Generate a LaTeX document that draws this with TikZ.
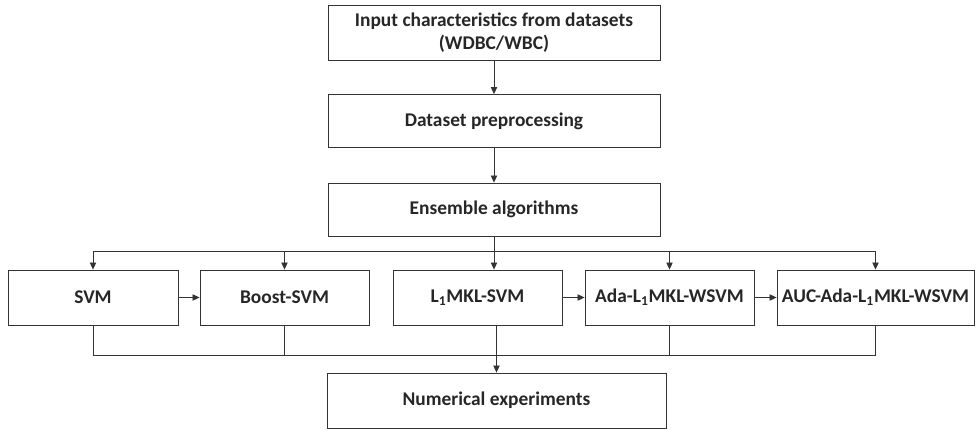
\documentclass[tikz,border=0pt]{standalone}
\usepackage{fontspec}
\setmainfont{Carlito}
\usetikzlibrary{positioning, arrows.meta}

\begin{document}
\begin{tikzpicture}[
    x=0.025cm, y=-0.025cm,
    every node/.style={rectangle, draw=black!80, line width=0.6pt, minimum height=1.375cm, align=center, font=\fontsize{13.8}{16.5}\selectfont\bfseries, text=black!85},
    wide/.style={minimum width=8.3cm},
    algo/.style={minimum width=4.225cm},
    arrow/.style={-{Triangle[length=5pt, width=4.5pt]}, line width=0.6pt, draw=black!80},
    link/.style={line width=0.6pt, draw=black!80}
]
\useasboundingbox (0,0) rectangle (976,429);

% Nodes
\node (input) [wide] at (494,32.5) {Input characteristics from datasets\\(WDBC/WBC)};
\node (prep) [wide, minimum height=1.325cm] at (494,121) {Dataset preprocessing};
\node (ens) [wide, minimum height=1.325cm] at (494,209.5) {Ensemble algorithms};

\node (svm) [algo, minimum width=4.25cm] at (93,297.5) {SVM};
\node (boost) [algo] at (284.5,297.5) {Boost-SVM};
\node (lmkl) [algo] at (477.5,297.5) {L\textsubscript{1}MKL-SVM};
\node (ada) [algo] at (669.5,297.5) {Ada-L\textsubscript{1}MKL-WSVM};
\node (auc) [minimum width=4.925cm] at (875.5,297.5) {AUC-Ada-L\textsubscript{1}MKL-WSVM};

\node (num) [minimum width=8.475cm] at (496.5,400.5) {Numerical experiments};

\coordinate (split) at (494,251);
\coordinate (join) at (496,355);

% Arrows
\draw [arrow] (input) -- (prep);
\draw [arrow] (prep) -- (ens);
\draw [arrow] (ens.south) -- (ens.south |- lmkl.north);
\draw [link] (svm.north |- split) -- (auc.north |- split);
\foreach \n in {svm, boost, ada, auc}
    \draw [arrow] (\n.north |- split) -- (\n.north);

\draw [arrow] (svm) -- (boost);
\draw [arrow] (lmkl) -- (ada);
\draw [arrow] (ada) -- (auc);

\draw [link] (svm.south) -- (svm.south |- join) -- (auc.south |- join) -- (auc.south);
\draw [link] (boost.south) -- (boost.south |- join);
\draw [link] (ada.south) -- (ada.south |- join);
\draw [arrow] (num.north |- lmkl.south) -- (num.north);

\end{tikzpicture}
\end{document}
